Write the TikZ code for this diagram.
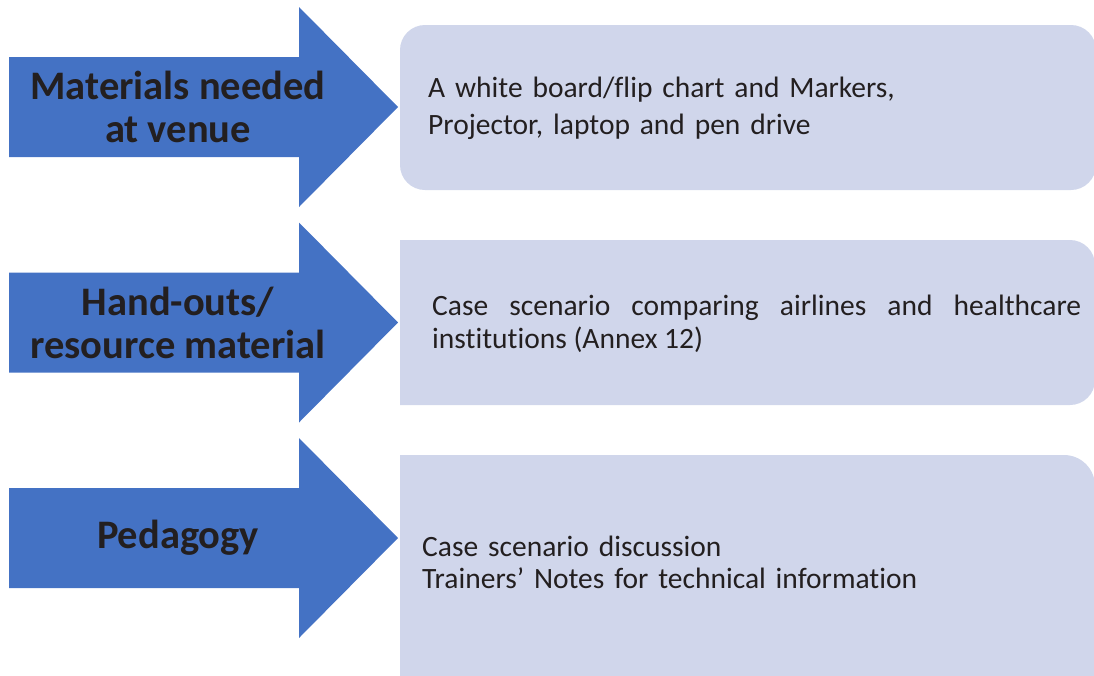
\documentclass[tikz,border=0pt]{standalone}
\usepackage{fontspec}
\setmainfont[Ligatures=NoCommon]{Carlito}
\definecolor{arrowblue}{RGB}{68,114,196}
\definecolor{boxfill}{RGB}{208,214,235}
\definecolor{inktext}{RGB}{35,31,32}
\tikzset{
  arrowlabel/.style={align=center, font=\bfseries\fontsize{40.5}{43}\selectfont, text=inktext, inner sep=0pt},
  boxtext/.style={anchor=base west, inner sep=0pt, text=inktext},
}
\newcommand\drawbluearrow[1]{%
  \fill[arrowblue] (9,#1-50) -- (299,#1-50) -- (299,#1-100) -- (398,#1) -- (299,#1+100) -- (299,#1+50) -- (9,#1+50) -- cycle;}
\begin{document}
\begin{tikzpicture}[x=1pt,y=-1pt]
\useasboundingbox (0,0) rectangle (1094,675);
\clip (0,0) rectangle (1094,675);
% arrows
\drawbluearrow{107}
\drawbluearrow{322.5}
\drawbluearrow{538}
\node[arrowlabel] (l1) at (178,107) {Materials needed\\at venue};
\node[arrowlabel] (l2) at (178,322.5) {Hand-outs/\\resource material};
\node[arrowlabel] (l3) at (178,538) {Pedagogy};
% boxes
\fill[boxfill, rounded corners=25] (400,25) rectangle (1096,190);
\fill[boxfill] (400,240) -- (1070,240) arc[start angle=-90, end angle=0, radius=25] -- (1095,380) arc[start angle=0, end angle=90, radius=25] -- (400,405) -- cycle;
\fill[boxfill] (400,455) -- (1064,455) arc[start angle=-90, end angle=0, radius=31] -- (1095,690) -- (400,690) -- cycle;
% box texts
\node[boxtext, text width=600pt, align=left, font=\fontsize{29.5}{37}\selectfont] (t1) at (428,97) {A white board/flip chart and Markers,\\Projector, laptop and pen drive};
\node[boxtext, text width=649pt, align=justify, font=\fontsize{29.5}{33}\selectfont] (t2) at (432,315) {Case scenario comparing airlines and healthcare\linebreak institutions (Annex 12)};
\node[boxtext, text width=600pt, align=left, font=\fontsize{29.5}{32}\selectfont] (t3) at (422,556) {Case scenario discussion\\Trainers’ Notes for technical information};
\end{tikzpicture}
\end{document}
